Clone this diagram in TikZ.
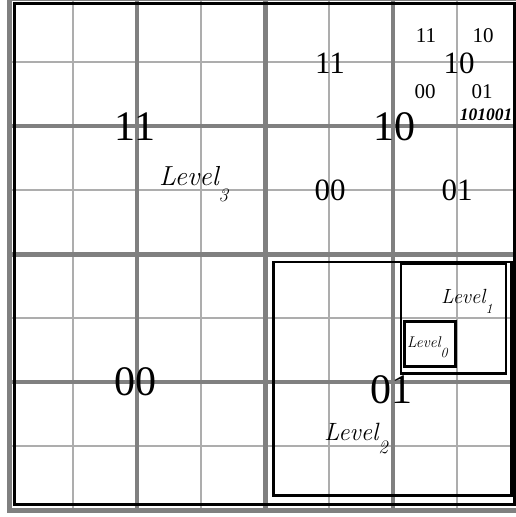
\documentclass[tikz,border=0pt]{standalone}
\usepackage{fontspec}
\newfontfamily\tnr{Liberation Serif}
\newcommand\lvllab[5]{{\fontsize{#1}{#1}\selectfont\itshape Level}\kern#4pt\raisebox{-#3pt}{\fontsize{#2}{#2}\selectfont\itshape #5}}
\begin{document}
\begin{tikzpicture}[x=1pt,y=-1pt,
  thinl/.style={draw=black!32,line width=1.1pt},
  thickl/.style={draw=black!50,line width=3.8pt},
  midl/.style={draw=black!50,line width=5pt},
  lvlbox/.style={draw=black,line width=2.8pt},
  solidbox/.style={draw=black,line width=3pt},
  bigd/.style={inner sep=0pt,anchor=base,font=\tnr\fontsize{42}{42}\selectfont},
  medd/.style={inner sep=0pt,anchor=base,font=\tnr\fontsize{31}{31}\selectfont},
  smalld/.style={inner sep=0pt,anchor=base,font=\tnr\fontsize{21}{21}\selectfont},
  coded/.style={inner sep=0pt,anchor=base,font=\tnr\bfseries\itshape\fontsize{17.5}{17.5}\selectfont},
  lvl/.style={inner sep=0pt,anchor=base west}]
\useasboundingbox (0,0) rectangle (516,517);
\fill[white] (0,0) rectangle (516,517);
\clip (0,0) rectangle (516,517);
% grid
\foreach \k in {1,3,5,7} {
  \draw[thinl] ({9+64*\k},-2) -- ({9+64*\k},510);
  \draw[thinl] (9,{-2+64*\k}) -- (521,{-2+64*\k});
}
\foreach \k in {2,6} {
  \draw[thickl] ({9+64*\k},-2) -- ({9+64*\k},510);
  \draw[thickl] (9,{-2+64*\k}) -- (521,{-2+64*\k});
}
\draw[midl] (265,-2) -- (265,510);
\draw[midl] (9,254) -- (521,254);
\draw[midl] (9,-2) rectangle (521,510);
% level boxes
\draw[black,line width=2.8pt] (14.5,3.5) rectangle (514.5,504.5);
\draw[lvlbox] (273.5,262) rectangle (511.5,495.5);
\draw[lvlbox] (401,264) rectangle (506,373.5);
\draw[solidbox] (404,321.5) rectangle (455,366.5);
% large codes
\node[bigd] (q11) at (135,140) {11};
\node[bigd] (q10) at (394.5,140) {10};
\node[bigd] (q00) at (135,395) {00};
\node[bigd] (q01) at (391,403) {01};
% medium codes
\node[medd] (m11) at (330,73) {11};
\node[medd] (m10) at (459,73) {10};
\node[medd] (m00) at (330,200) {00};
\node[medd] (m01) at (457,200) {01};
% small codes
\node[smalld] (s11) at (426,42) {11};
\node[smalld] (s10) at (483,42) {10};
\node[smalld] (s00) at (425,98) {00};
\node[smalld] (s01) at (482,98) {01};
\node[coded] (code) at (486,120) {101001};
% level labels
\node[lvl] (l3) at (159,185) {\lvllab{27.5}{19}{16}{0}{3}};
\node[lvl] (l2) at (324,440) {\lvllab{25}{19}{13}{0}{2}};
\node[lvl] (l1) at (441,303) {\lvllab{20.5}{14}{10}{0}{1}};
\node[lvl] (l0) at (407,347) {\lvllab{15.5}{14}{10}{0}{0}};
\end{tikzpicture}
\end{document}
